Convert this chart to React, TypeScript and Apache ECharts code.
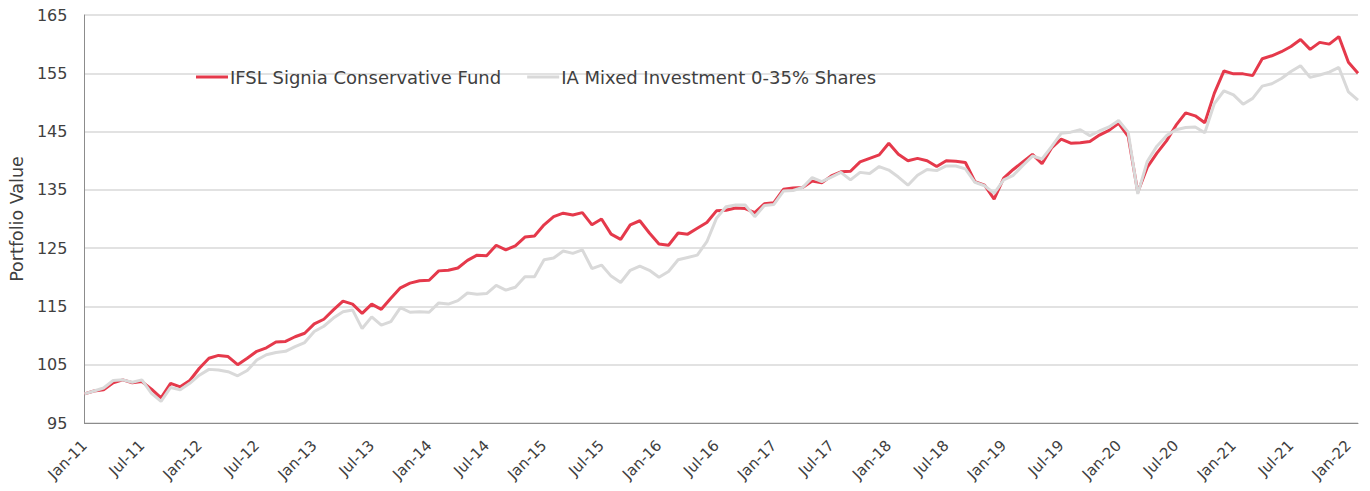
import React, { useEffect, useRef } from "react";
import * as echarts from "echarts";

const MONTHS = ["Jan", "Feb", "Mar", "Apr", "May", "Jun", "Jul", "Aug", "Sep", "Oct", "Nov", "Dec"];
const FIRST_YEAR = 11;
const N_POINTS = 134;
const categories: string[] = Array.from(
  { length: N_POINTS },
  (_, i) => `${MONTHS[i % 12]}-${FIRST_YEAR + Math.floor(i / 12)}`
);

const SERIES_NAMES = ["IFSL Signia Conservative Fund", "IA Mixed Investment 0-35% Shares"];

const fund: number[] = [
  100.0, 100.5, 100.7, 101.9, 102.4, 101.9, 102.1, 100.8, 99.3, 101.8, 101.2, 102.3,
  104.4, 106.1, 106.6, 106.4, 105.0, 106.1, 107.3, 107.9, 108.9, 109.0, 109.8, 110.4,
  112.0, 112.8, 114.4, 115.9, 115.4, 113.8, 115.4, 114.5, 116.4, 118.2, 119.0, 119.4,
  119.5, 121.1, 121.2, 121.6, 122.9, 123.8, 123.7, 125.5, 124.7, 125.4, 126.9, 127.1,
  129.0, 130.4, 131.0, 130.7, 131.1, 129.0, 130.0, 127.4, 126.5, 129.0, 129.7, 127.6,
  125.7, 125.5, 127.6, 127.4, 128.4, 129.4, 131.4, 131.5, 131.9, 131.8, 131.1, 132.6,
  132.8, 135.1, 135.3, 135.4, 136.5, 136.2, 137.4, 138.1, 138.2, 139.8, 140.4, 141.0,
  143.0, 141.1, 140.0, 140.4, 140.0, 139.0, 140.0, 139.9, 139.7, 136.4, 135.8, 133.4,
  137.0, 138.5, 139.8, 141.1, 139.5, 142.2, 143.7, 143.0, 143.1, 143.3, 144.4, 145.2,
  146.4, 144.2, 134.6, 138.9, 141.3, 143.4, 146.1, 148.2, 147.7, 146.5, 151.6, 155.4,
  154.9, 154.9, 154.6, 157.5, 158.0, 158.7, 159.6, 160.8, 159.1, 160.3, 160.0, 161.3,
  156.9, 155.0,
];

const sector: number[] = [
  100.0, 100.5, 101.0, 102.3, 102.4, 102.0, 102.4, 100.1, 98.7, 101.1, 100.7, 101.8,
  103.2, 104.2, 104.1, 103.8, 103.1, 104.0, 105.8, 106.7, 107.1, 107.3, 108.1, 108.8,
  110.7, 111.6, 113.0, 114.1, 114.4, 111.2, 113.2, 111.8, 112.4, 114.8, 114.0, 114.1,
  114.0, 115.6, 115.4, 116.0, 117.3, 117.1, 117.2, 118.6, 117.8, 118.3, 120.1, 120.1,
  123.0, 123.3, 124.5, 124.1, 124.7, 121.5, 122.1, 120.2, 119.1, 121.2, 121.9, 121.2,
  120.0, 121.0, 123.0, 123.4, 123.8, 126.1, 130.1, 132.1, 132.4, 132.4, 130.4, 132.3,
  132.5, 134.8, 134.9, 135.4, 137.1, 136.4, 137.2, 138.0, 136.7, 138.0, 137.8, 139.0,
  138.4, 137.2, 135.8, 137.5, 138.5, 138.3, 139.1, 139.1, 138.6, 136.3, 135.7, 134.4,
  136.7, 137.5, 139.2, 140.8, 140.3, 142.4, 144.7, 144.9, 145.3, 144.3, 145.1, 145.8,
  146.9, 144.9, 134.3, 139.9, 142.5, 144.3, 145.3, 145.7, 145.8, 144.8, 149.8, 152.0,
  151.3, 149.7, 150.7, 152.8, 153.2, 154.1, 155.3, 156.3, 154.3, 154.7, 155.2, 156.0,
  151.8, 150.4,
];

const Y_MIN = 95;
const Y_MAX = 165;
const Y_STEP = 10;
const Y_TITLE = "Portfolio Value";

const FONT = "'DejaVu Sans', 'Noto Sans', sans-serif";
const TEXT = "#404040";
const RED = "#E5394B";
const GREY = "#D9D9D9";

export default function App() {
  const ref = useRef<HTMLDivElement>(null);

  useEffect(() => {
    if (!ref.current) return;
    const chart = echarts.init(ref.current, undefined, { renderer: "svg" });
    chart.setOption({
      animation: false,
      backgroundColor: "#ffffff",
      textStyle: { fontFamily: FONT },
      grid: { left: 81, right: 12, top: 15, bottom: 68, containLabel: false },
      legend: {
        left: 191,
        top: 63,
        itemWidth: 32,
        itemHeight: 3,
        itemGap: 26,
        icon: "rect",
        textStyle: { fontFamily: FONT, fontSize: 18, color: TEXT, padding: [0, 0, 0, -3] },
        data: SERIES_NAMES,
      },
      xAxis: {
        type: "category",
        data: categories,
        boundaryGap: false,
        axisLine: { show: true, lineStyle: { color: "#8C8C8C", width: 1 } },
        axisTick: { show: false },
        axisLabel: {
          interval: (index: number) => index % 6 === 0,
          rotate: 45,
          fontFamily: FONT,
          fontSize: 15,
          color: TEXT,
          margin: 20,
        },
        splitLine: { show: false },
      },
      yAxis: {
        type: "value",
        min: Y_MIN,
        max: Y_MAX,
        interval: Y_STEP,
        name: Y_TITLE,
        nameLocation: "middle",
        nameGap: 56,
        nameRotate: 90,
        nameTextStyle: { fontFamily: FONT, fontSize: 17.5, color: TEXT },
        axisLine: { show: true, lineStyle: { color: "#8C8C8C", width: 1 } },
        axisTick: { show: false },
        axisLabel: { fontFamily: FONT, fontSize: 16, color: TEXT, margin: 17 },
        splitLine: { show: true, lineStyle: { color: "#D9D9D9", width: 1.5 } },
      },
      series: [
        {
          name: SERIES_NAMES[0],
          type: "line",
          data: fund,
          symbol: "none",
          lineStyle: { color: RED, width: 3 },
          itemStyle: { color: RED },
        },
        {
          name: SERIES_NAMES[1],
          type: "line",
          data: sector,
          symbol: "none",
          lineStyle: { color: GREY, width: 3 },
          itemStyle: { color: GREY },
        },
      ],
    });
    return () => chart.dispose();
  }, []);

  return (
    <div
      ref={ref}
      style={{ position: "fixed", left: 0, top: 0, width: 1370, height: 491, background: "#fff" }}
    />
  );
}
